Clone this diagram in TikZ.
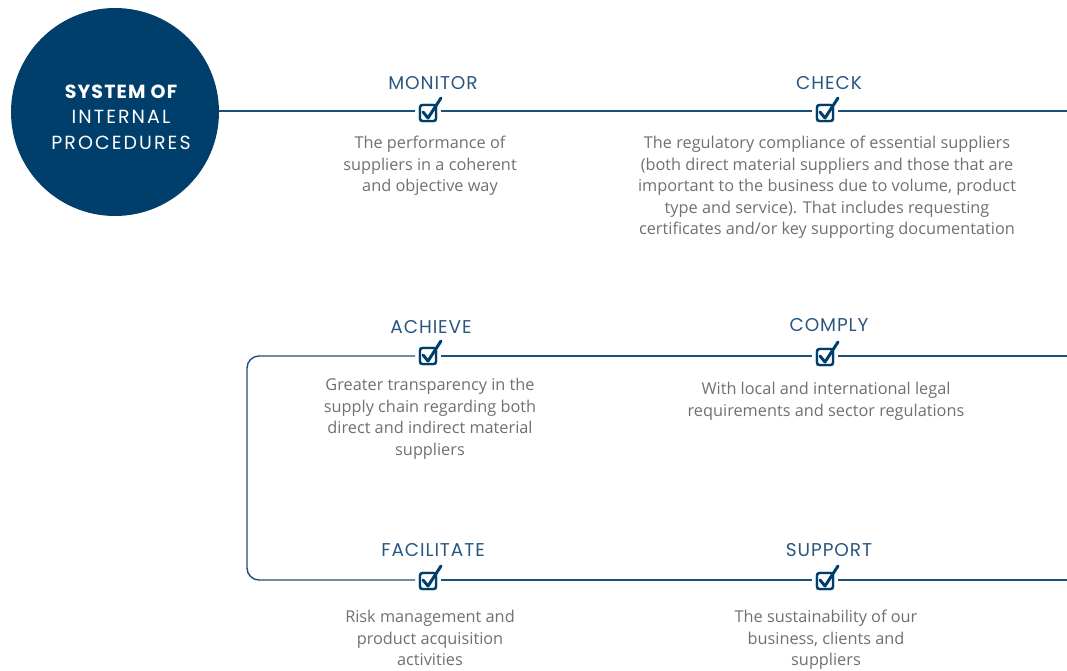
\documentclass[tikz,border=0pt]{standalone}
\usepackage{fontspec}
\usetikzlibrary{calc}
\setmainfont{Open Sans}
\newfontfamily\titlefont[LetterSpace=5]{Poppins}
\newfontfamily\hubfont[LetterSpace=11]{Poppins}
\newfontfamily\hubbold[LetterSpace=6]{Poppins Bold}
\definecolor{navy}{HTML}{003F6B}
\definecolor{lineblue}{HTML}{1D4F7C}
\definecolor{bodygray}{HTML}{707070}
\definecolor{titleblue}{HTML}{2A5680}
\begin{document}
\begin{tikzpicture}[x=1pt,y=-1pt,
  flow/.style={draw=lineblue,line width=1.4pt,rounded corners=12pt},
  chkbox/.style={draw=navy,line width=2.4pt,fill=white,rounded corners=2.5pt,
    minimum size=16pt,inner sep=0pt,outer sep=5pt},
  tick/.style={draw=navy,line width=3pt,line cap=round,line join=round},
  ttl/.style={font=\titlefont\fontsize{18.5}{22}\selectfont,text=titleblue,inner sep=0pt},
  body/.style={font=\fontsize{16.3}{21.5}\selectfont,text=bodygray,align=center,
    inner sep=0pt,anchor=north},
  hub/.style={circle,fill=navy,minimum size=208pt,inner sep=0pt}]
\useasboundingbox (0,0) rectangle (1067,670);

% hub
\node[hub] (sys) at (115,112) {};
\node[font=\hubfont\fontsize{19}{25.5}\selectfont,text=white,align=center,inner sep=0pt]
  (syslabel) at (121,117) {{\hubbold SYSTEM OF}\\INTERNAL\\PROCEDURES};

% checkboxes
\node[chkbox] (mon) at (428,113) {};
\node[chkbox] (chk) at (825,113) {};
\node[chkbox] (ach) at (428,356) {};
\node[chkbox] (com) at (825,357) {};
\node[chkbox] (fac) at (428,581) {};
\node[chkbox] (sup) at (825,581) {};

\coordinate (r1) at (1067,111);
\coordinate (r2) at (1067,356);
\coordinate (r3) at (1067,580);
\coordinate (ctl) at (247,356);
\coordinate (cbl) at (247,580);

% connectors
\draw[flow] (sys.east |- r1) -- (mon.west |- r1);
\draw[flow] (mon.east |- r1) -- (chk.west |- r1);
\draw[flow] (chk.east |- r1) -- (r1);
\draw[flow] (r2) -- (com.east |- r2);
\draw[flow] (com.west |- r2) -- (ach.east |- r2);
\draw[flow] (ach.west |- r2) -- (ctl) -- (cbl) -- (fac.west |- r3);
\draw[flow] (fac.east |- r3) -- (sup.west |- r3);
\draw[flow] (sup.east |- r3) -- (r3);

% redraw boxes on top with ticks
\foreach \n in {mon,chk,ach,com,fac,sup}{
  \node[chkbox] at (\n) {};
  \draw[tick] ($(\n)+(-5,-1)$) -- ($(\n)+(0,5)$) -- ($(\n)+(13,-15)$);
}

% titles
\node[ttl] (tmon) at (433,83) {MONITOR};
\node[ttl] (tchk) at (829,83) {CHECK};
\node[ttl] (tach) at (431,327) {ACHIEVE};
\node[ttl] (tcom) at (829,325) {COMPLY};
\node[ttl] (tfac) at (433,550) {FACILITATE};
\node[ttl] (tsup) at (829,550) {SUPPORT};

% bodies
\node[body] (bmon) at (430,136) {The performance of\\suppliers in a coherent\\and objective way};
\node[body] (bchk) at (827,136) {The regulatory compliance of essential suppliers\\(both direct material suppliers and those that are\\important to the business due to volume, product\\type and service). That includes requesting\\certificates and/or key supporting documentation};
\node[body] (bach) at (430,378) {Greater transparency in the\\supply chain regarding both\\direct and indirect material\\suppliers};
\node[body] (bcom) at (826,382) {With local and international legal\\requirements and sector regulations};
\node[body] (bfac) at (430,610) {Risk management and\\product acquisition\\activities};
\node[body] (bsup) at (826,610) {The sustainability of our\\business, clients and\\suppliers};
\end{tikzpicture}
\end{document}
